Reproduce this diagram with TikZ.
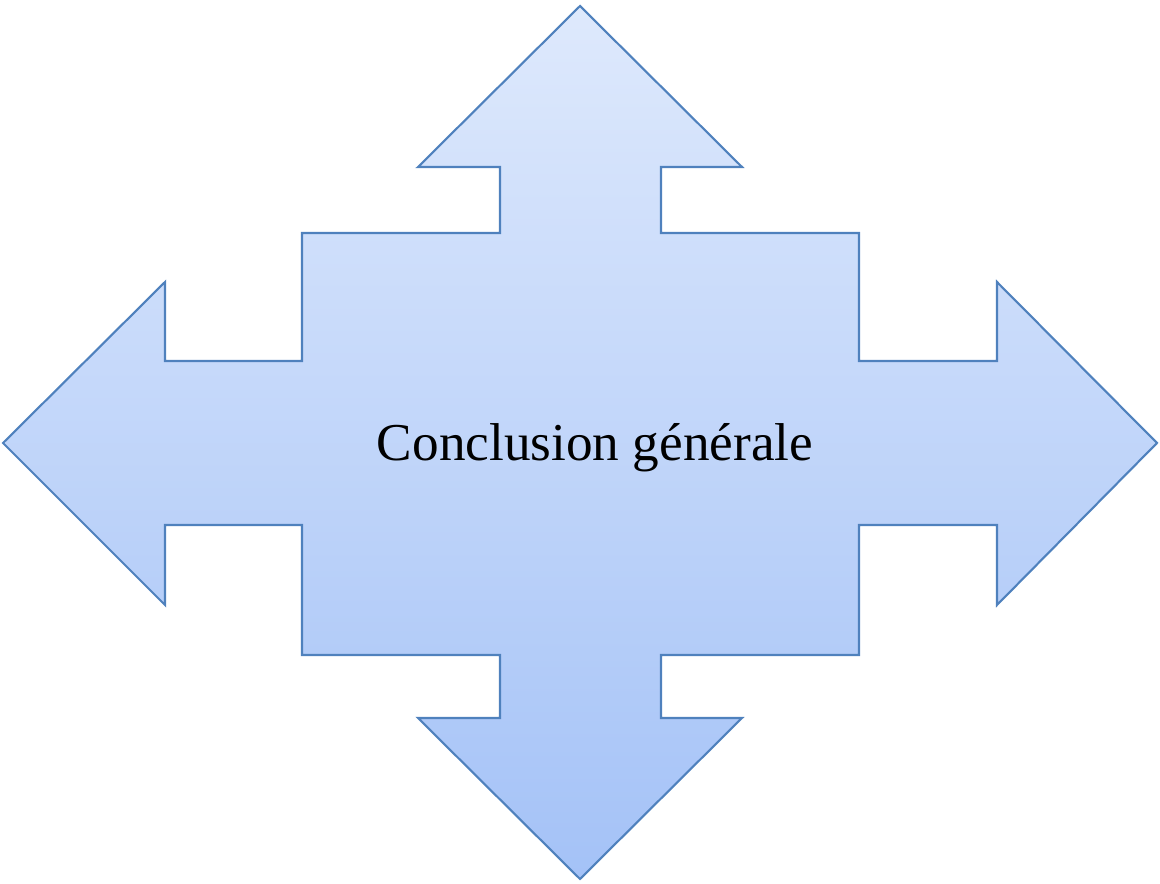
\documentclass[tikz,border=0pt]{standalone}
\usepackage{fontspec}
\setmainfont{Liberation Serif}
\usetikzlibrary{positioning}
\definecolor{arrowline}{RGB}{79,129,189}
\definecolor{arrowtop}{RGB}{222,233,252}
\definecolor{arrowbottom}{RGB}{164,194,247}

\begin{document}
\begin{tikzpicture}[x=0.02cm,y=-0.02cm,
  crossarrow/.style={draw=arrowline,line width=1.2pt,line join=miter,
                     top color=arrowtop,bottom color=arrowbottom},
  title/.style={font=\fontsize{30.3}{36}\selectfont,text=black}
]
\useasboundingbox (0,0) rectangle (1160,884);
% four-way arrow
\draw[crossarrow] (580,6) -- (742,167) -- (661,167) -- (661,233) -- (859,233)
  -- (859,361) -- (997,361) -- (997,282) -- (1157,443) -- (997,605) -- (997,525)
  -- (859,525) -- (859,655) -- (661,655) -- (661,718) -- (742,718) -- (580,879)
  -- (418,718) -- (500,718) -- (500,655) -- (302,655) -- (302,525) -- (165,525)
  -- (165,605) -- (3,443) -- (165,282) -- (165,361) -- (302,361) -- (302,233)
  -- (500,233) -- (500,167) -- (418,167) -- cycle;
\node[title] (concl) at (595,448) {Conclusion générale};
\end{tikzpicture}
\end{document}
